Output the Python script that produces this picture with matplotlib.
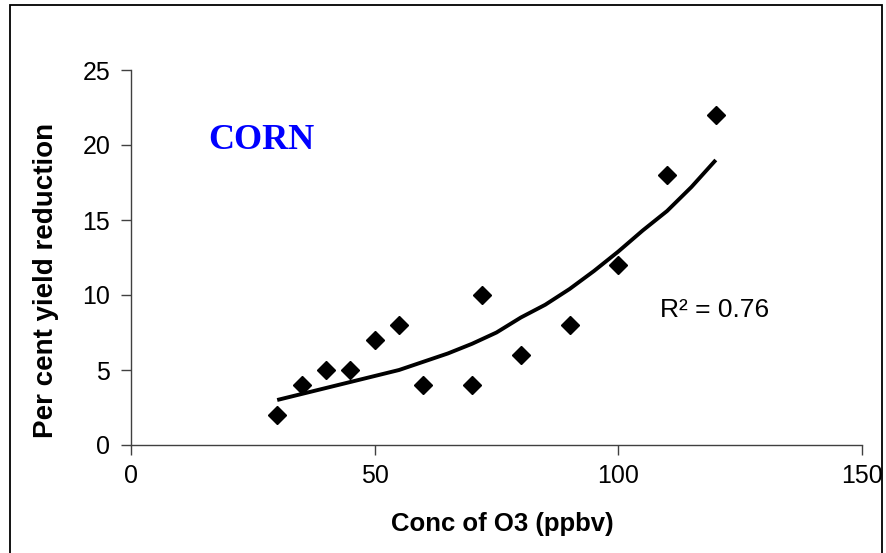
import matplotlib
matplotlib.use("Agg")
import matplotlib.pyplot as plt
from matplotlib.patches import Rectangle

# Observed data (ppbv, % yield reduction)
ozone_conc = [30, 35, 40, 45, 50, 55, 60, 70, 72, 80, 90, 100, 110, 120]
yield_reduction = [2, 4, 5, 5, 7, 8, 4, 4, 10, 6, 8, 12, 18, 22]

# Trend line
trend_x = [30, 35, 40, 45, 50, 55, 60, 65, 70, 75, 80, 85, 90, 95, 100, 105, 110, 115, 120]
trend_y = [3.0, 3.4, 3.8, 4.2, 4.6, 5.0, 5.55, 6.1, 6.75, 7.5, 8.5, 9.35, 10.4, 11.6, 12.9, 14.3, 15.6, 17.2, 19.0]

x_ticks = [0, 50, 100, 150]
y_ticks = [0, 5, 10, 15, 20, 25]

plt.rcParams['font.family'] = ['Liberation Sans', 'DejaVu Sans']

W, H = 887, 553
fig = plt.figure(figsize=(W / 100, H / 100), dpi=100)
fig.patch.set_facecolor('white')

left, right, top, bottom = 131, 862, 70, 445
ax = fig.add_axes([left / W, 1 - bottom / H, (right - left) / W, (bottom - top) / H])
ax.set_xlim(0, 150)
ax.set_ylim(0, 25)
ax.set_xticks(x_ticks)
ax.set_yticks(y_ticks)
for s in ['top', 'right']:
    ax.spines[s].set_visible(False)
for s in ['left', 'bottom']:
    ax.spines[s].set_color('#404040')
    ax.spines[s].set_linewidth(1)
ax.tick_params(direction='out', length=7, width=1, color='#404040', labelsize=18)
ax.tick_params(axis='x', pad=7)
ax.tick_params(axis='y', pad=8)

ax.plot(trend_x, trend_y, color='black', lw=2.8, solid_capstyle='butt', zorder=2)
ax.plot(ozone_conc, yield_reduction, linestyle='none', marker='D', markersize=9.2,
        color='black', zorder=3, clip_on=False)

ax.text((660 - left) / (right - left), (bottom - 317) / (bottom - top), 'R² = 0.76',
        transform=ax.transAxes, fontsize=19, ha='left', va='baseline', color='black')

fig.text(261 / W, 1 - 149 / H, 'CORN', fontsize=26, fontweight='bold', color='#0000FF',
         family=['Liberation Serif', 'DejaVu Serif'], ha='center', va='baseline')

fig.text(502 / W, 1 - 531 / H, 'Conc of O3 (ppbv)', fontsize=18.5, fontweight='bold',
         ha='center', va='baseline')
fig.text(46 / W, 1 - 280 / H, 'Per cent yield reduction', fontsize=20, fontweight='bold',
         rotation=90, ha='center', va='center')

# outer chart border
fig.patches.append(Rectangle((10 / W, -0.05), (882 - 10) / W, 1.05 - 5 / H,
                             transform=fig.transFigure, fill=False, edgecolor='black',
                             lw=1.3, zorder=10))

fig.savefig('out.png', dpi=100, facecolor='white')
